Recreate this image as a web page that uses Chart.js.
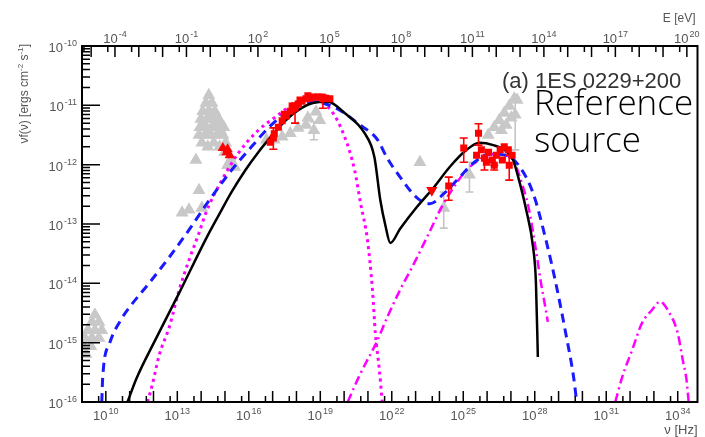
<!DOCTYPE html>
<html>
<head>
<meta charset="utf-8">
<script src="https://cdn.jsdelivr.net/npm/chart.js@4.4.1/dist/chart.umd.min.js"></script>
<style>
  html, body { margin: 0; padding: 0; background: #fff; }
</style>
</head>
<body>
<canvas id="sed" width="705" height="437"></canvas>
<script>
// Broadband SED of 1ES 0229+200, everything kept as log10(nu / Hz) and log10(nuFnu / erg cm^-2 s^-1)
const H_EV = 4.1357e-15; // eV per Hz

const NU_MIN_LOG = 9;
const NU_MAX_LOG = 34.83;
const F_MIN_LOG = -16;
const F_MAX_LOG = -10;

// tick labels
const hzLabelExps = [10, 13, 16, 19, 22, 25, 28, 31, 34];
const evLabelExps = [-4, -1, 2, 5, 8, 11, 14, 17, 20];
const fluxLabelExps = [-16, -15, -14, -13, -12, -11, -10];

// model: total emission (black)
const totalLogNu = [10.91, 11.29, 12.12, 13.08, 14.24, 14.74, 15.28, 15.86, 16.40, 16.95, 17.53, 18.07, 18.69, 19.32, 20.02, 20.86, 21.27, 21.52, 21.73, 21.94, 22.35, 23.06, 23.77, 24.43, 25.14, 25.68, 26.26, 26.80, 27.09, 27.34, 27.64, 27.93, 28.05, 28.13];
const totalLogF = [-16.00, -15.60, -14.92, -14.16, -13.22, -12.85, -12.46, -12.09, -11.79, -11.52, -11.26, -11.08, -10.96, -10.94, -11.13, -11.47, -11.87, -12.60, -13.02, -13.32, -13.08, -12.71, -12.38, -12.04, -11.75, -11.63, -11.67, -11.77, -11.92, -12.26, -12.76, -13.39, -13.99, -15.24];

// model: SSC fit (blue dashed)
const sscLogNu = [9.83, 9.87, 10.16, 10.58, 11.00, 11.83, 12.66, 13.49, 14.32, 15.28, 16.11, 16.95, 17.86, 18.69, 19.32, 19.94, 20.56, 21.40, 21.81, 22.35, 23.06, 23.60, 24.18, 24.85, 25.43, 26.10, 26.80, 27.34, 27.93, 28.47, 28.88, 29.30, 29.63, 29.76];
const sscLogF = [-16.00, -15.58, -15.01, -14.65, -14.40, -13.99, -13.56, -13.10, -12.61, -12.09, -11.70, -11.33, -11.05, -10.94, -10.99, -11.11, -11.30, -11.58, -11.89, -12.21, -12.56, -12.66, -12.49, -12.21, -11.97, -11.82, -11.84, -12.02, -12.48, -13.27, -13.99, -14.84, -15.58, -16.00];

// model: synchrotron component (magenta dotted)
const synLogNu = [11.75, 11.95, 12.24, 12.66, 13.08, 13.49, 13.91, 14.20, 14.87, 15.57, 16.40, 17.24, 17.94, 18.61, 19.44, 20.02, 20.44, 20.69, 20.98, 21.19, 21.31, 21.48, 21.60];
const synLogF = [-16.00, -15.71, -15.21, -14.74, -14.11, -13.61, -13.15, -12.81, -12.26, -11.80, -11.42, -11.16, -10.96, -10.89, -11.08, -11.53, -12.09, -12.65, -13.27, -14.11, -14.84, -15.46, -16.00];

// model: inverse Compton component (magenta dash-dot)
const icLogNu = [20.15, 20.65, 21.40, 21.81, 22.35, 22.94, 23.48, 24.18, 24.60, 25.14, 25.68, 26.26, 26.72, 27.09, 27.51, 27.76, 28.05, 28.26, 28.43, 28.55];
const icLogF = [-16.00, -15.55, -14.96, -14.57, -14.11, -13.66, -13.22, -12.65, -12.38, -12.09, -11.92, -11.82, -11.84, -11.92, -12.38, -12.76, -13.44, -13.99, -14.37, -14.65];

// model: very high energy bump (magenta dash-dot)
const vheLogNu = [31.38, 31.67, 32.09, 32.50, 32.92, 33.25, 33.58, 34.00, 34.21, 34.37, 34.46];
const vheLogF = [-16.00, -15.58, -15.12, -14.67, -14.45, -14.31, -14.45, -14.84, -15.29, -15.63, -16.00];

// archival data (grey triangles): optical/UV, X-ray, radio, gamma-ray
const archLogNu = [
  14.32, 14.20, 14.45, 14.07, 14.32, 14.57, 13.99, 14.24, 14.49, 14.74, 13.95, 14.20, 14.45, 14.70, 14.95, 13.91,
  14.16, 14.41, 14.66, 14.91, 14.03, 14.53, 15.03, 13.78, 13.91, 13.49, 13.20, 14.03, 14.99, 15.24, 15.41, 15.11,
  14.07, 14.57, 14.82, 14.32, 14.82, 14.45, 14.28, 14.78,
  16.74, 17.07, 17.40, 17.74, 18.07, 18.40, 18.73, 18.98, 18.82, 18.48,
  9.54, 9.42, 9.71, 9.25, 9.54, 9.83, 9.12, 9.42, 9.71, 9.08, 9.37, 9.17,
  23.18, 24.18, 25.26, 26.05, 26.30, 26.51, 26.72, 26.93, 27.14, 27.18, 26.80, 27.01, 26.60, 27.26];
const archLogF = [
  -10.83, -10.96, -10.96, -11.10, -11.10, -11.10, -11.23, -11.23, -11.23, -11.23, -11.37, -11.37, -11.37, -11.37, -11.37, -11.50,
  -11.50, -11.50, -11.50, -11.50, -11.63, -11.63, -11.63, -11.92, -12.43, -12.76, -12.81, -12.73, -11.79, -11.92, -12.04, -12.01,
  -11.30, -11.30, -11.30, -11.43, -11.43, -11.16, -11.70, -11.70,
  -11.58, -11.58, -11.53, -11.47, -11.38, -11.33, -11.42, -11.25, -11.11, -11.21,
  -14.53, -14.65, -14.65, -14.79, -14.79, -14.79, -14.92, -14.92, -14.92, -15.06, -15.06, -15.19,
  -11.96, -12.73, -12.17, -11.50, -11.37, -11.25, -11.13, -11.01, -10.89, -11.16, -11.33, -11.21, -11.42, -10.91];
const archBarLogNu = [18.73, 24.18, 25.26, 27.18];
const archBarLo = [-11.58, -13.07, -12.46, -11.75];
const archBarHi = [-11.28, -12.46, -11.96, -10.86];

// observations (red squares): X-ray band and VHE gamma rays
const obsLogNu = [
  16.90, 17.07, 17.24, 17.40, 17.57, 17.74, 17.90, 18.07, 18.23, 18.40, 18.57, 18.73, 18.90, 19.07, 19.23, 19.40,
  17.49, 17.82, 18.15, 18.48, 17.03, 17.94, 19.11,
  24.39, 25.02, 25.64, 25.56, 25.76, 25.89, 26.06, 26.22, 26.39, 26.55, 26.72, 26.89, 27.05, 25.97, 26.30, 26.64, 26.93];
const obsLogF = [
  -11.62, -11.48, -11.37, -11.26, -11.18, -11.10, -11.03, -10.98, -10.93, -10.89, -10.88, -10.86, -10.86, -10.86, -10.88, -10.89,
  -11.15, -11.01, -10.91, -10.84, -11.55, -11.05, -10.89,
  -12.36, -11.72, -11.47, -11.84, -11.75, -11.89, -11.79, -11.92, -11.84, -11.75, -11.70, -11.75, -11.84, -11.96, -12.01, -11.92, -12.01];
const obsBarLogNu = [17.03, 17.94, 19.11, 24.39, 25.02, 25.64, 25.89, 26.30, 26.93];
const obsBarLo = [-11.74, -11.30, -11.05, -12.60, -11.96, -11.67, -12.09, -12.09, -12.26];
const obsBarHi = [-11.38, -10.96, -10.83, -12.21, -11.55, -11.31, -11.89, -12.01, -11.84];

// observations (red triangles, optical/UV)
const uvLogNu = [14.91, 15.07, 15.20, 15.11];
const uvLogF = [-11.72, -11.79, -11.84, -11.74];

// upper limit (red down triangle)
const ulLogNu = [23.68];
const ulLogF = [-12.43];

const sourceName = '(a) 1ES 0229+200';
const noteLines = ['Reference', 'source'];

const FONT = '"Liberation Sans", Arial, sans-serif';

const toPoints = (lx, ly) => lx.map((v, i) => ({ x: Math.pow(10, v), y: Math.pow(10, ly[i]) }));

function curve(label, lx, ly, color, width, dash) {
  return {
    label,
    data: toPoints(lx, ly),
    showLine: true,
    borderColor: color,
    borderWidth: width,
    borderDash: dash,
    pointRadius: 0,
    cubicInterpolationMode: 'monotone',
    fill: false,
  };
}

function markers(label, lx, ly, color, style, radius, rotation) {
  return {
    label,
    data: toPoints(lx, ly),
    showLine: false,
    pointStyle: style,
    pointRadius: radius,
    pointRotation: rotation || 0,
    backgroundColor: color,
    borderColor: color,
    borderWidth: 0,
  };
}

function drawBars(chart, lx, lo, hi, color) {
  const { ctx, scales: { x, y } } = chart;
  ctx.save();
  ctx.strokeStyle = color;
  ctx.lineWidth = 1.6;
  lx.forEach((v, i) => {
    const px = x.getPixelForValue(Math.pow(10, v));
    const y1 = y.getPixelForValue(Math.pow(10, lo[i]));
    const y2 = y.getPixelForValue(Math.pow(10, hi[i]));
    ctx.beginPath();
    ctx.moveTo(px, y1); ctx.lineTo(px, y2);
    ctx.moveTo(px - 4, y1); ctx.lineTo(px + 4, y1);
    ctx.moveTo(px - 4, y2); ctx.lineTo(px + 4, y2);
    ctx.stroke();
  });
  ctx.restore();
}

function powLabel(ctx, exp, px, py, align) {
  ctx.font = `13px ${FONT}`;
  const wBase = ctx.measureText('10').width;
  ctx.font = `9px ${FONT}`;
  const wExp = ctx.measureText(String(exp)).width;
  const total = wBase + 1 + wExp;
  const x0 = align === 'right' ? px - total : px - total / 2;
  ctx.textAlign = 'left';
  ctx.textBaseline = 'alphabetic';
  ctx.font = `13px ${FONT}`;
  ctx.fillText('10', x0, py);
  ctx.font = `9px ${FONT}`;
  ctx.fillText(String(exp), x0 + wBase + 1, py - 6);
}

// a run of normal / superscript pieces starting at (px, py); returns its width
function richText(ctx, parts, px, py, size, dry) {
  let cx = px;
  parts.forEach(([t, sup]) => {
    ctx.font = `${sup ? Math.round(size * 0.7) : size}px ${FONT}`;
    if (!dry) ctx.fillText(t, cx, sup ? py - size * 0.45 : py);
    cx += ctx.measureText(t).width;
  });
  return cx - px;
}

const errorBars = {
  id: 'errorBars',
  beforeDatasetsDraw(chart) {
    const { ctx, chartArea: a } = chart;
    ctx.save();
    ctx.beginPath();
    ctx.rect(a.left, a.top, a.right - a.left, a.bottom - a.top);
    ctx.clip();
    drawBars(chart, archBarLogNu, archBarLo, archBarHi, '#c4c4c4');
    ctx.restore();
  },
  afterDatasetsDraw(chart) {
    drawBars(chart, obsBarLogNu, obsBarLo, obsBarHi, '#ff0000');
  },
};

const sedAxes = {
  id: 'sedAxes',
  afterDraw(chart) {
    const { ctx, chartArea: a, scales: { x, x2, y } } = chart;
    ctx.save();
    ctx.strokeStyle = '#000';
    ctx.fillStyle = '#555';

    // ticks, pointing into the frame
    ctx.lineWidth = 1.5;
    ctx.beginPath();
    for (let e = NU_MIN_LOG; e <= Math.floor(NU_MAX_LOG); e++) {
      const px = x.getPixelForValue(Math.pow(10, e));
      ctx.moveTo(px, a.bottom); ctx.lineTo(px, a.bottom - 11);
      const pm = x.getPixelForValue(5 * Math.pow(10, e - 1));
      if (pm > a.left) { ctx.moveTo(pm, a.bottom); ctx.lineTo(pm, a.bottom - 6); }
    }
    const eMin = Math.ceil(NU_MIN_LOG + Math.log10(H_EV));
    const eMax = Math.floor(NU_MAX_LOG + Math.log10(H_EV));
    for (let e = eMin; e <= eMax; e++) {
      const px = x2.getPixelForValue(Math.pow(10, e));
      ctx.moveTo(px, a.top); ctx.lineTo(px, a.top + 11);
      const pm = x2.getPixelForValue(5 * Math.pow(10, e - 1));
      if (pm > a.left) { ctx.moveTo(pm, a.top); ctx.lineTo(pm, a.top + 6); }
    }
    for (let e = F_MIN_LOG; e < F_MAX_LOG; e++) {
      const py = y.getPixelForValue(Math.pow(10, e));
      ctx.moveTo(a.left, py); ctx.lineTo(a.left + 18, py);
      for (let k = 2; k <= 9; k++) {
        const pk = y.getPixelForValue(k * Math.pow(10, e));
        ctx.moveTo(a.left, pk); ctx.lineTo(a.left + 8, pk);
      }
    }
    ctx.stroke();

    // frame
    ctx.lineWidth = 2;
    ctx.strokeRect(a.left, a.top, a.right - a.left, a.bottom - a.top);

    // tick labels
    hzLabelExps.forEach(e => powLabel(ctx, e, x.getPixelForValue(Math.pow(10, e)), a.bottom + 18, 'center'));
    evLabelExps.forEach(e => powLabel(ctx, e, x2.getPixelForValue(Math.pow(10, e)), a.top - 3, 'center'));
    fluxLabelExps.forEach(e => powLabel(ctx, e, a.left - 5, y.getPixelForValue(Math.pow(10, e)) + 6, 'right'));

    // axis titles
    ctx.font = `12px ${FONT}`;
    ctx.textAlign = 'right';
    ctx.fillText('E [eV]', a.right - 2, 22);
    ctx.font = `13px ${FONT}`;
    ctx.fillText('\u03bd [Hz]', a.right, 434);

    ctx.save();
    ctx.translate(28, a.top - 2);
    ctx.rotate(-Math.PI / 2);
    ctx.textAlign = 'left';
    const parts = [['\u03bdf(\u03bd) [ergs cm', false], ['-2', true], [' s', false], ['-1', true], [']', false]];
    const w = richText(ctx, parts, 0, 0, 12, true);
    richText(ctx, parts, -w, 0, 12, false);
    ctx.restore();

    // source name and note
    ctx.textAlign = 'left';
    ctx.fillStyle = '#333';
    ctx.font = `22px ${FONT}`;
    ctx.fillText(sourceName, 502, 88);
    ctx.fillStyle = '#000';
    ctx.font = '300 35px "Open Sans", "DejaVu Sans", sans-serif';
    ctx.fillText(noteLines[0], 534, 115);
    ctx.fillText(noteLines[1], 534, 152);
    ctx.restore();
  },
};

new Chart(document.getElementById('sed'), {
  type: 'scatter',
  data: {
    datasets: [
      markers('Upper limit', ulLogNu, ulLogF, '#ff0000', 'triangle', 6.5, 180),
      markers('Optical/UV', uvLogNu, uvLogF, '#ff0000', 'triangle', 6),
      markers('Observations', obsLogNu, obsLogF, '#ff0000', 'rect', 5),
      curve('Total', totalLogNu, totalLogF, '#000000', 2.5, []),
      curve('SSC', sscLogNu, sscLogF, '#1a1aff', 3, [9, 6]),
      curve('Synchrotron', synLogNu, synLogF, '#ff00ff', 3, [3, 4]),
      curve('Inverse Compton', icLogNu, icLogF, '#ff00ff', 2.5, [9, 4, 2, 4]),
      curve('VHE bump', vheLogNu, vheLogF, '#ff00ff', 2.5, [9, 4, 2, 4]),
      markers('Archival', archLogNu, archLogF, '#c8c8c8', 'triangle', 7.5),
    ],
  },
  options: {
    responsive: false,
    animation: false,
    devicePixelRatio: 1,
    layout: { padding: { left: 82, top: 46, right: 2, bottom: 35 } },
    plugins: { legend: { display: false }, tooltip: { enabled: false } },
    scales: {
      x: { type: 'logarithmic', display: false, min: Math.pow(10, NU_MIN_LOG), max: Math.pow(10, NU_MAX_LOG) },
      x2: { type: 'logarithmic', display: false, position: 'top', min: Math.pow(10, NU_MIN_LOG) * H_EV, max: Math.pow(10, NU_MAX_LOG) * H_EV },
      y: { type: 'logarithmic', display: false, min: Math.pow(10, F_MIN_LOG), max: Math.pow(10, F_MAX_LOG) },
    },
  },
  plugins: [errorBars, sedAxes],
});
</script>
</body>
</html>
